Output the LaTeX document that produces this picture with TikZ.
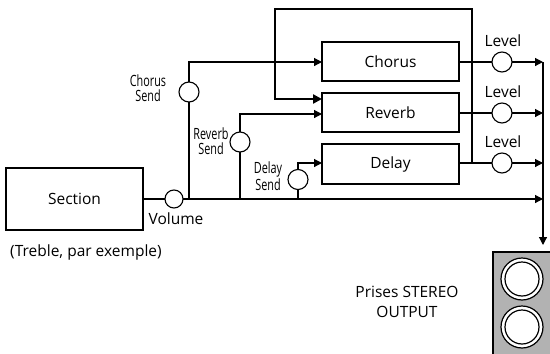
\documentclass[tikz,border=0pt]{standalone}
\usepackage{fontspec}
\setmainfont{Open Sans}
\newfontfamily\condfont[FakeStretch=0.7]{Open Sans}
\usetikzlibrary{arrows.meta}
\begin{document}
\begin{tikzpicture}[x=1pt,y=-1pt,
  every node/.style={inner sep=0pt,outer sep=0pt},
  fx/.style={draw,line width=1.8pt,minimum width=137pt,minimum height=39pt,font=\fontsize{15.5}{15.5}\selectfont},
  knob/.style={draw,circle,fill=white,line width=1.1pt,minimum size=20pt},
  wire/.style={line width=1.2pt},
  arr/.style={wire,-{Triangle[length=8pt,width=8pt]}},
  thick wire/.style={line width=2.8pt},
  lbl/.style={font=\fontsize{15.5}{15.5}\selectfont},
  small/.style={font=\condfont\fontsize{15.5}{15}\selectfont,align=center},
  jack/.style={draw,circle,fill=white,line width=1.2pt}]
\useasboundingbox (0,0) rectangle (550,354);
% boxes
\node[fx,minimum width=137pt,minimum height=62pt] (sec) at (74.5,199) {Section};
\node[fx] (cho) at (390.5,61.5) {Chorus};
\node[fx] (rev) at (390.5,112.5) {Reverb};
\node[fx,minimum height=40pt] (del) at (390.5,164) {Delay};
% knobs
\node[knob,minimum size=18pt] (vol) at (174,199) {};
\node[knob] (cs) at (189,92) {};
\node[knob] (rs) at (240,142) {};
\node[knob] (ds) at (298,179.5) {};
\node[knob] (lc) at (502,62) {};
\node[knob] (lr) at (502,113) {};
\node[knob] (ld) at (502,163) {};
% coordinates
\coordinate (bus) at (543,62);
\coordinate (busend) at (543,245);
\coordinate (mainend) at (543,199);
\coordinate (csb) at (189,199);
\coordinate (csc) at (189,62);
\coordinate (rsb) at (240,199);
\coordinate (rsc) at (240,114);
\coordinate (dsb) at (298,199);
\coordinate (dsc) at (298,163);
\coordinate (fb1) at (472,163);
\coordinate (fb2) at (472,9);
\coordinate (fb3) at (275,9);
\coordinate (fb4) at (275,99);
% main line
\draw[wire] (sec.east) -- (vol.west);
\draw[arr] (vol.east) -- (mainend);
% sends
\draw[wire] (csb) -- (cs.south);
\draw[arr] (cs.north) -- (csc) -- (cho.west |- csc);
\draw[wire] (rsb) -- (rs.south);
\draw[arr] (rs.north) -- (rsc) -- (rev.west |- rsc);
\draw[wire] (dsb) -- (ds.south);
\draw[arr] (ds.north) -- (dsc) -- (del.west |- dsc);
% feedback
\draw[thick wire,-{Triangle[length=9pt,width=9pt]}] (fb1) -- (fb2) -- (fb3) -- (fb4) -- (rev.west |- fb4);
% outputs
\draw[wire] (cho.east |- lc) -- (lc.west);
\draw[wire] (rev.east |- lr) -- (lr.west);
\draw[wire] (del.east |- ld) -- (ld.west);
\draw[arr] (lc.east) -- (bus);
\draw[arr] (lr.east) -- (bus |- lr);
\draw[arr] (ld.east) -- (bus |- ld);
\draw[arr] (bus) -- (busend);
% labels
\node[lbl] at (503,41) {Level};
\node[lbl] at (503,92) {Level};
\node[lbl] at (503,142) {Level};
\node[lbl] at (176,219) {Volume};
\node[lbl] at (86,252) {(Treble, par exemple)};
\node[small] at (148,88) {Chorus\\Send};
\node[small] at (211,141) {Reverb\\Send};
\node[small] at (268,176) {Delay\\Send};
\node[lbl,align=center] at (407,302) {Prises STEREO\\[4pt]OUTPUT};
% output panel
\node[draw,fill=black!30,line width=1.2pt,minimum width=60pt,minimum height=110pt,anchor=north west] (panel) at (493,252) {};
\node[jack,minimum size=42pt] (j1) at (522,279) {};
\node[jack,minimum size=34pt] (j1i) at (522,279) {};
\node[jack,minimum size=42pt] (j2) at (522,327) {};
\node[jack,minimum size=34pt] (j2i) at (522,327) {};
\end{tikzpicture}
\end{document}
